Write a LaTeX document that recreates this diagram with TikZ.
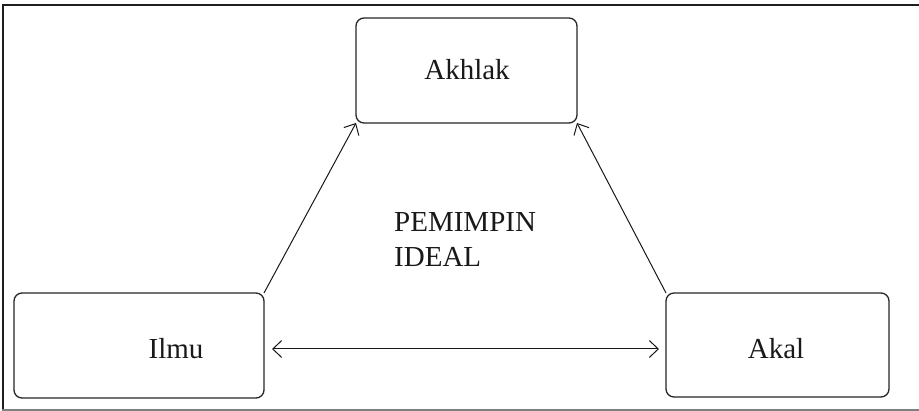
\documentclass[tikz,border=0pt]{standalone}
\usepackage{fontspec}
\setmainfont{Liberation Serif}
\usetikzlibrary{arrows.meta}
\begin{document}
\begin{tikzpicture}[x=1pt,y=-1pt,
  box/.style={draw=black!85,line width=1.3pt,rounded corners=8pt},
  lbl/.style={font=\fontsize{29}{35}\selectfont,text=black!90,inner sep=0pt},
  tip/.style={Straight Barb[length=9pt,width=17pt]},
  conn/.style={draw=black!90,line width=1pt,-{Straight Barb[length=9pt,width=17pt]}}]
\useasboundingbox (0,0) rectangle (919,411);
\fill[white] (0,0) rectangle (919,411);
% frame
\draw[black!88,line width=2.2pt] (3,409) -- (3,5) -- (919,5);
\draw[black!50,line width=1.2pt] (2,410) -- (919,410);
% boxes
\draw[box] (356,18) rectangle (577,123);
\draw[box] (14,293) rectangle (264,398);
\draw[box] (666,293) rectangle (889,397);
\coordinate (akBL) at (356,123);
\coordinate (akBR) at (577,123);
\coordinate (ilTR) at (264,293);
\coordinate (alTL) at (666,293);
\coordinate (hl) at (272,349);
\coordinate (hr) at (659,349);
\node[lbl] (akhlak) at (467,70) {Akhlak};
\node[lbl] (ilmu) at (176,349) {Ilmu};
\node[lbl] (akal) at (776,349) {Akal};
\node[lbl,align=left,anchor=west] (pem) at (394,240) {PEMIMPIN\\IDEAL};
% connectors
\draw[conn] (ilTR) -- (akBL);
\draw[conn] (alTL) -- (akBR);
\draw[conn,{Straight Barb[length=9pt,width=17pt]}-{Straight Barb[length=9pt,width=17pt]}] (hl) -- (hr);
\end{tikzpicture}
\end{document}
